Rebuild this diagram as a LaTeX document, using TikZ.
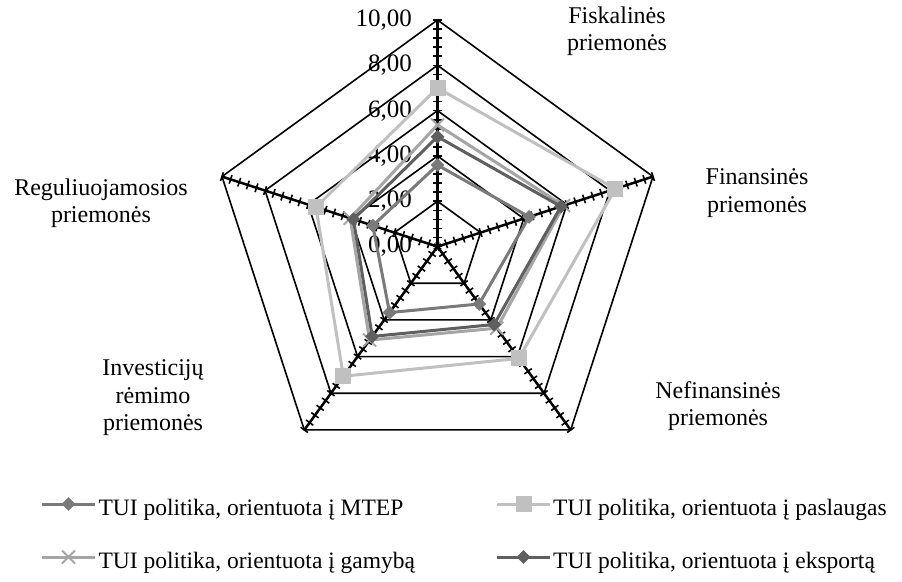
\documentclass[tikz,border=0pt]{standalone}
\usepackage{fontspec}
\setmainfont{Liberation Serif}
\usetikzlibrary{shapes.geometric,shapes.misc}
\definecolor{cmtep}{HTML}{7A7A7A}
\definecolor{cpasl}{HTML}{C0C0C0}
\definecolor{cgam}{HTML}{A5A5A5}
\definecolor{ceksp}{HTML}{5F5F5F}
\tikzset{
  gridline/.style={black, line width=1.6pt},
  axisline/.style={black, line width=2.5pt},
  axistick/.style={black, line width=1.6pt},
  axislabel/.style={anchor=east, inner sep=0pt, font=\fontsize{25}{25}\selectfont},
  catlabel/.style={align=center, inner sep=0pt, font=\fontsize{24}{27.5}\selectfont},
  leglabel/.style={anchor=base west, inner sep=0pt, font=\fontsize{23.5}{23.5}\selectfont},
  mtepline/.style={cmtep, line width=3pt, line join=round},
  paslline/.style={cpasl, line width=3pt, line join=round},
  gamline/.style={cgam, line width=3pt, line join=round},
  ekspline/.style={ceksp, line width=3pt, line join=round},
  mtepmark/.style={diamond, fill=cmtep, minimum width=14pt, minimum height=14pt, inner sep=0pt},
  paslmark/.style={rectangle, fill=cpasl, minimum size=16pt, inner sep=0pt},
  gammark/.style={cross out, draw=cgam, line width=2pt, minimum size=11pt, inner sep=0pt},
  ekspmark/.style={diamond, fill=ceksp, minimum width=14pt, minimum height=14pt, inner sep=0pt},
}
\begin{document}
\begin{tikzpicture}[x=1pt,y=1pt]
\def\S{22.66}
\useasboundingbox (-437.5,-334.4) rectangle (464.5,246.6);
% grid pentagons
\foreach \v in {2,4,6,8,10}
  \draw[gridline] (90:{\v*\S}) -- (18:{\v*\S}) -- (-54:{\v*\S}) -- (-126:{\v*\S}) -- (162:{\v*\S}) -- cycle;
% axes with ticks
\foreach \a in {90,18,-54,-126,162} {
  \coordinate (end\a) at (\a:{10*\S});
  \draw[axisline] (0,0) -- (end\a);
  \foreach \t in {0,...,25}
    \draw[axistick, rotate=\a] ({\t*0.4*\S},-4.5) -- ({\t*0.4*\S},4.5);
}
% value labels
\foreach \v in {0,2,4,6,8,10}
  \node[axislabel] (val\v) at (-25.5,{\v*\S}) {\v,00};
% category labels
\node[catlabel] (cat1) at (179.5,215.6) {Fiskalinės\\priemonės};
\node[catlabel] (cat2) at (319.5,53.6) {Finansinės\\priemonės};
\node[catlabel] (cat3) at (280.5,-159.4) {Nefinansinės\\priemonės};
\node[catlabel] (cat4) at (-284.5,-151.4) {Investicijų\\rėmimo\\priemonės};
\node[catlabel] (cat5) at (-336.5,43.6) {Reguliuojamosios\\priemonės};
% data points
\foreach \n/\a/\v in {1/90/3.6, 2/18/4.25, 3/-54/3.13, 4/-126/3.6, 5/162/3.0}
  \coordinate (m\n) at (\a:{\v*\S});
\foreach \n/\a/\v in {1/90/7.0, 2/18/8.25, 3/-54/6.1, 4/-126/7.07, 5/162/5.64}
  \coordinate (p\n) at (\a:{\v*\S});
\foreach \n/\a/\v in {1/90/5.37, 2/18/5.85, 3/-54/4.45, 4/-126/5.1, 5/162/4.05}
  \coordinate (g\n) at (\a:{\v*\S});
\foreach \n/\a/\v in {1/90/4.85, 2/18/5.73, 3/-54/4.25, 4/-126/4.9, 5/162/3.9}
  \coordinate (e\n) at (\a:{\v*\S});
% series
\draw[mtepline] (m1) -- (m2) -- (m3) -- (m4) -- (m5) -- cycle;
\foreach \n in {1,...,5} \node[mtepmark] (mm\n) at (m\n) {};
\draw[paslline] (p1) -- (p2) -- (p3) -- (p4) -- (p5) -- cycle;
\foreach \n in {1,...,5} \node[paslmark] (pm\n) at (p\n) {};
\draw[gamline] (g1) -- (g2) -- (g3) -- (g4) -- (g5) -- cycle;
\foreach \n in {1,...,5} \node[gammark] (gm\n) at (g\n) {};
\draw[ekspline] (e1) -- (e2) -- (e3) -- (e4) -- (e5) -- cycle;
\foreach \n in {1,...,5} \node[ekspmark] (em\n) at (e\n) {};
% legend
\coordinate (l1a) at (-395.5,-257.4); \coordinate (l1b) at (-342.5,-257.4);
\draw[mtepline] (l1a) -- (l1b);
\node[mtepmark] (l1m) at (-369,-257.4) {};
\node[leglabel] (l1t) at (-339.1,-268.4) {TUI politika, orientuota į MTEP};
\coordinate (l2a) at (59.5,-257.4); \coordinate (l2b) at (112.5,-257.4);
\draw[paslline] (l2a) -- (l2b);
\node[paslmark] (l2m) at (86,-257.4) {};
\node[leglabel] (l2t) at (115.5,-268.4) {TUI politika, orientuota į paslaugas};
\coordinate (l3a) at (-395.5,-310.4); \coordinate (l3b) at (-342.5,-310.4);
\draw[gamline] (l3a) -- (l3b);
\node[gammark] (l3m) at (-369,-310.4) {};
\node[leglabel] (l3t) at (-339.1,-321.4) {TUI politika, orientuota į gamybą};
\coordinate (l4a) at (59.5,-310.4); \coordinate (l4b) at (112.5,-310.4);
\draw[ekspline] (l4a) -- (l4b);
\node[ekspmark] (l4m) at (86,-310.4) {};
\node[leglabel] (l4t) at (115.5,-321.4) {TUI politika, orientuota į eksportą};
\end{tikzpicture}
\end{document}
